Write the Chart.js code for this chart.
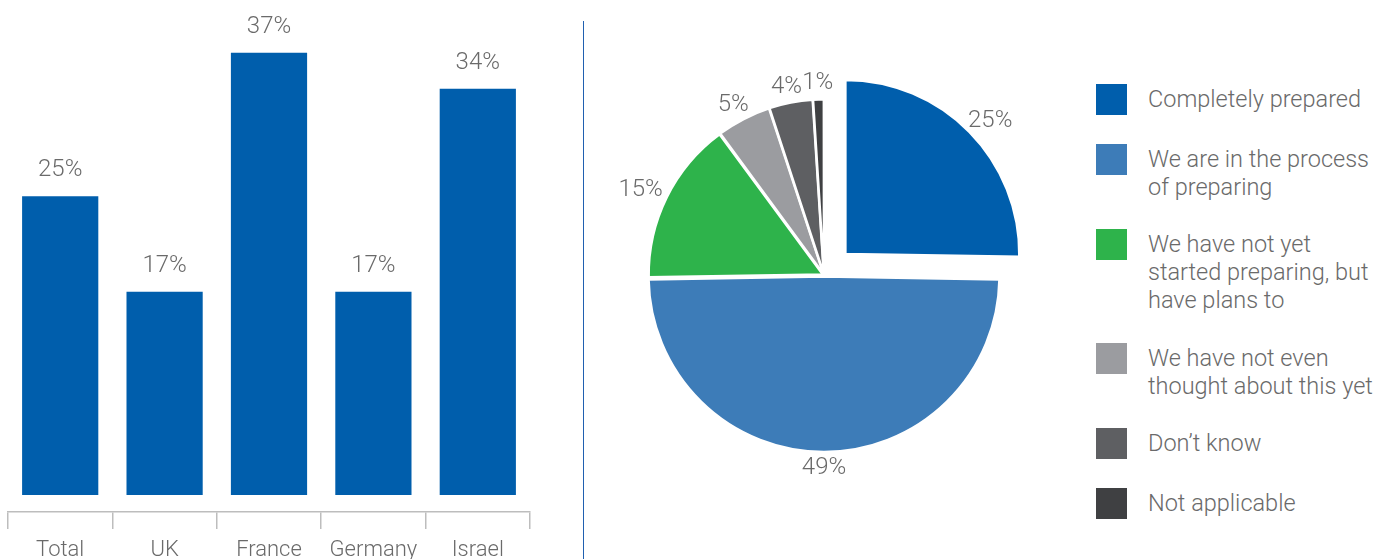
<!DOCTYPE html>
<html>
<head>
<meta charset="utf-8">
<script src="https://cdn.jsdelivr.net/npm/chart.js@4.4.1/dist/chart.umd.min.js"></script>
<style>
  html, body { margin: 0; padding: 0; background: #fff; overflow: hidden; }
  body { width: 1375px; height: 559px; position: relative; font-family: Roboto, "Liberation Sans", sans-serif; }
  #barCanvas { position: absolute; left: 0; top: 0; }
  #pieCanvas { position: absolute; left: 584px; top: 0; }
  #divider { position: absolute; left: 583px; top: 21px; width: 1px; height: 538px; background: #2060b0; }
  #legend { position: absolute; left: 1096px; top: 84px; width: 279px; height: 435px;
            display: flex; flex-direction: column; justify-content: space-between; }
  .item { display: flex; align-items: flex-start; }
  .swatch { width: 31px; height: 31px; flex: none; }
  .text { margin-left: 21px; margin-top: 1px; font-size: 23.5px; line-height: 28px; font-weight: 300;
          color: #6a6a6a; white-space: nowrap; }
</style>
</head>
<body>
<canvas id="barCanvas" width="560" height="566"></canvas>
<div id="divider"></div>
<canvas id="pieCanvas" width="480" height="550"></canvas>
<div id="legend"></div>
<script>
// Share of organisations that are completely prepared, by country
const countries = ['Total', 'UK', 'France', 'Germany', 'Israel'];
const preparedShare = [25, 17, 37, 17, 34];

// Overall state of preparation (pie), one legend entry per slice
const statusLabels = [
  ['Completely prepared'],
  ['We are in the process', 'of preparing'],
  ['We have not yet', 'started preparing, but', 'have plans to'],
  ['We have not even', 'thought about this yet'],
  ['Don\u2019t know'],
  ['Not applicable']
];
const statusShare = [25, 49, 15, 5, 4, 1];
const statusColors = ['#005eac', '#3d7cb8', '#2eb34b', '#9b9ca0', '#5e5f62', '#3f4042'];

const textGray = '#6a6a6a';
const labelFont = '300 24px Roboto, "Liberation Sans", sans-serif';

// Percent labels above each bar
const barValueLabels = {
  id: 'barValueLabels',
  afterDatasetsDraw(chart) {
    const { ctx } = chart;
    const values = chart.data.datasets[0].data;
    ctx.save();
    ctx.font = labelFont;
    ctx.fillStyle = textGray;
    ctx.textAlign = 'center';
    ctx.textBaseline = 'alphabetic';
    chart.getDatasetMeta(0).data.forEach((bar, i) => {
      ctx.fillText(values[i] + '%', bar.x, bar.y - 20);
    });
    ctx.restore();
  }
};

// Percent labels just outside each (possibly pulled-out) slice
const pieValueLabels = {
  id: 'pieValueLabels',
  afterDatasetsDraw(chart) {
    const { ctx } = chart;
    const values = chart.data.datasets[0].data;
    ctx.save();
    ctx.font = labelFont;
    ctx.fillStyle = textGray;
    ctx.textAlign = 'center';
    ctx.textBaseline = 'middle';
    chart.getDatasetMeta(0).data.forEach((arc, i) => {
      const p = arc.getProps(['x', 'y', 'startAngle', 'endAngle', 'outerRadius'], true);
      const mid = (p.startAngle + p.endAngle) / 2;
      const span = p.endAngle - p.startAngle;
      const off = (arc.options.offset || 0) / 4;
      // same shift ArcElement applies when drawing an offset slice
      const shift = off * (2 - Math.sin(Math.min(Math.PI, span)));
      const c = Math.cos(mid), s = Math.sin(mid);
      const text = values[i] + '%';
      const w = ctx.measureText(text).width;
      const h = 18;
      const r = p.outerRadius + shift + 7;
      ctx.fillText(text, p.x + c * r + c * w / 2, p.y + s * r + s * h / 2);
    });
    ctx.restore();
  }
};

new Chart(document.getElementById('barCanvas'), {
  type: 'bar',
  data: {
    labels: countries,
    datasets: [{
      data: preparedShare,
      backgroundColor: statusColors[0],
      categoryPercentage: 1,
      barPercentage: 0.73
    }]
  },
  options: {
    responsive: false,
    animation: false,
    layout: { padding: { left: 8, right: 30, top: 17, bottom: 0 } },
    plugins: { legend: { display: false }, tooltip: { enabled: false } },
    scales: {
      x: {
        afterFit(scale) { scale.height = 54; },
        grid: { display: true, drawOnChartArea: false, drawTicks: true, tickLength: 17,
                offset: true, color: '#bdbdbd', lineWidth: 1.5 },
        border: { display: true, color: '#bdbdbd', width: 1.5 },
        ticks: { color: textGray, padding: 8,
                 font: { family: 'Roboto, "Liberation Sans", sans-serif', size: 22, weight: 300 } }
      },
      y: { display: false, min: -1.42, max: 40 }
    }
  },
  plugins: [barValueLabels]
});

new Chart(document.getElementById('pieCanvas'), {
  type: 'pie',
  data: {
    labels: statusLabels,
    datasets: [{
      data: statusShare,
      backgroundColor: statusColors,
      borderColor: '#ffffff',
      borderWidth: 2.5,
      offset: [120, 6, 5, 3.5, 3.5, 3.5]
    }]
  },
  options: {
    responsive: false,
    animation: false,
    radius: 174,
    layout: { padding: 0 },
    plugins: { legend: { display: false }, tooltip: { enabled: false } }
  },
  plugins: [pieValueLabels]
});

// Legend built from the pie's labels and colours
const legend = document.getElementById('legend');
statusLabels.forEach((lines, i) => {
  const item = document.createElement('div');
  item.className = 'item';
  const sw = document.createElement('div');
  sw.className = 'swatch';
  sw.style.background = statusColors[i];
  const tx = document.createElement('div');
  tx.className = 'text';
  lines.forEach((line, k) => {
    if (k) tx.appendChild(document.createElement('br'));
    tx.appendChild(document.createTextNode(line));
  });
  item.appendChild(sw);
  item.appendChild(tx);
  legend.appendChild(item);
});
</script>
</body>
</html>
